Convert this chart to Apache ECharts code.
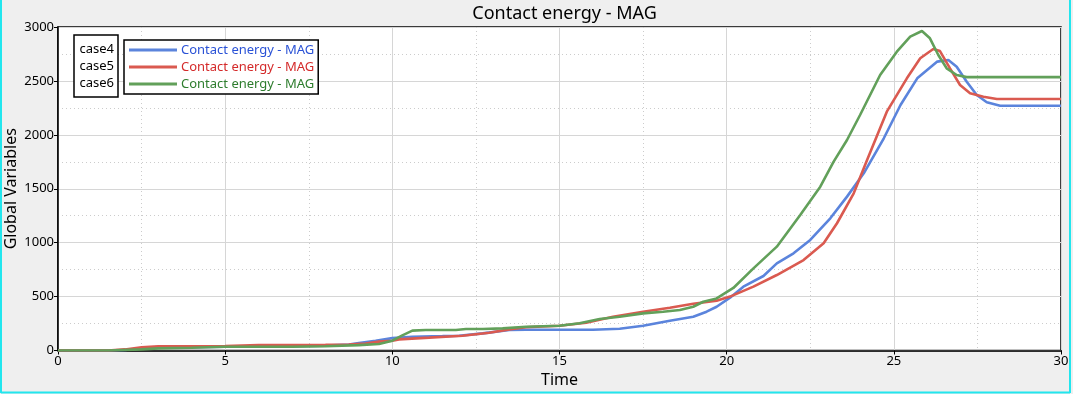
<!DOCTYPE html>
<html>
<head>
<meta charset="utf-8">
<script src="https://cdn.jsdelivr.net/npm/echarts@6/dist/echarts.min.js"></script>
<style>
html,body{margin:0;padding:0;background:#efefef;}
#chart{width:1073px;height:394px;}
</style>
</head>
<body>
<div id="chart"></div>
<script>
const chartTitle = 'Contact energy - MAG';
const caseNames = ['case4', 'case5', 'case6'];
const seriesLabel = 'Contact energy - MAG';
const xTicks = [0, 5, 10, 15, 20, 25, 30];
const yTicks = [0, 500, 1000, 1500, 2000, 2500, 3000];

const case4 = [
  [0,0],[1.5,0],[2,5],[2.5,20],[3,25],[4,30],[5,35],[6,38],[7,40],[8,45],[8.7,55],[9,70],[9.5,90],[10,115],
  [10.6,128],[11.5,133],[12,137],[12.7,159],[13.5,190],[14,192],[15,192],[16,192],[16.8,202],[17.5,230],
  [18.3,276],[19,313],[19.4,360],[19.7,406],[20.1,490],[20.5,592],[21.1,691],[21.5,808],[22,901],[22.5,1025],
  [23.1,1226],[23.6,1427],[24.1,1643],[24.7,1968],[25.2,2277],[25.7,2524],[26.3,2679],[26.63,2694],[26.88,2632],
  [27.18,2493],[27.48,2369],[27.78,2302],[28.18,2270],[30,2270]
];
const case5 = [
  [0,0],[1.5,0],[2,10],[2.5,30],[3,38],[4,40],[5,42],[6,50],[7,50],[8,52],[8.7,55],[9.2,65],[9.6,82],[10,90],
  [10.2,103],[11.1,119],[12.1,137],[12.9,165],[13.5,196],[14,215],[15,230],[15.8,258],[16.6,313],[17.5,360],
  [18.3,397],[19,434],[19.7,461],[20.1,500],[20.8,592],[21.5,700],[22.3,839],[22.9,994],[23.3,1180],[23.8,1458],
  [24.2,1767],[24.79,2215],[25.39,2524],[25.79,2710],[26.18,2796],[26.38,2777],[26.68,2617],[26.98,2462],
  [27.28,2385],[27.68,2354],[28.08,2332],[30,2332]
];
const case6 = [
  [0,0],[1.5,0],[2.5,10],[3,20],[4,25],[4.5,30],[5,35],[6,35],[7,35],[8,40],[9,50],[9.6,60],[10,91],[10.3,140],
  [10.6,184],[11,190],[11.9,190],[12.2,199],[12.7,200],[13.3,205],[14,220],[15,230],[15.6,252],[16.2,292],
  [16.8,313],[17.5,344],[18.1,360],[18.6,375],[19,406],[19.3,452],[19.7,483],[20.2,580],[20.8,762],[21.5,963],
  [22.2,1257],[22.8,1519],[23.2,1751],[23.6,1952],[23.99,2184],[24.59,2555],[25.09,2771],[25.49,2910],
  [25.84,2963],[26.08,2895],[26.33,2740],[26.58,2617],[26.88,2555],[27.18,2535],[30,2535]
];

const lineColors = ['#5b84dc', '#da5a50', '#62a05a'];
const textColors = ['#2a52d6', '#d42a2a', '#2e7d2e'];
const FONT = '"Noto Sans", "DejaVu Sans", sans-serif';

const chart = echarts.init(document.getElementById('chart'));
const dataSets = [case4, case5, case6];

chart.setOption({
  backgroundColor: '#efefef',
  animation: false,
  textStyle: { fontFamily: FONT },
  title: {
    text: chartTitle, left: 559.5, textAlign: 'center', top: 0,
    textStyle: { fontFamily: FONT, fontSize: 18, fontWeight: 'normal', color: '#000' }
  },
  grid: {
    left: 58, right: 12, top: 27, bottom: 43.5, show: true,
    containLabel: false, outerBoundsMode: 'none',
    backgroundColor: '#fff', borderColor: '#000', borderWidth: 1.5
  },
  legend: {
    orient: 'vertical', left: 124, top: 40,
    backgroundColor: '#fff', borderColor: '#000', borderWidth: 1.5,
    padding: [3, 4, 3, 5], itemGap: 3,
    itemWidth: 48, itemHeight: 3, icon: 'rect',
    formatter: () => seriesLabel,
    data: caseNames.map((n, i) => ({ name: n, textStyle: { color: textColors[i] } })),
    textStyle: { fontFamily: FONT, fontSize: 13, lineHeight: 14, padding: [0, 0, 0, -1] }
  },
  xAxis: {
    type: 'value', min: 0, max: 30, interval: 5,
    name: 'Time', nameLocation: 'middle', nameGap: 22, nameMoveOverlap: false,
    nameTextStyle: { fontFamily: FONT, fontSize: 16, color: '#000' },
    axisLine: { show: true, lineStyle: { color: '#000', width: 1.5 } },
    axisTick: { show: true, length: 4, lineStyle: { color: '#000' } },
    axisLabel: { color: '#000', fontSize: 13, fontFamily: FONT, margin: 4,
      formatter: v => xTicks.includes(v) ? String(v) : '' },
    splitLine: { show: true, lineStyle: { color: '#d6d6d6', width: 1 } },
    minorTick: { show: false, splitNumber: 2 },
    minorSplitLine: { show: true, lineStyle: { color: '#cccccc', type: [1, 3], width: 1 } }
  },
  yAxis: {
    type: 'value', min: 0, max: 3000, interval: 500,
    name: 'Global Variables', nameLocation: 'middle', nameGap: 39, nameRotate: 90, nameMoveOverlap: false,
    nameTextStyle: { fontFamily: FONT, fontSize: 16, color: '#000' },
    axisLine: { show: true, lineStyle: { color: '#000', width: 1.5 } },
    axisTick: { show: true, length: 4, lineStyle: { color: '#000' } },
    axisLabel: { color: '#000', fontSize: 13, fontFamily: FONT, margin: 4,
      formatter: v => yTicks.includes(v) ? String(v) : '' },
    splitLine: { show: true, lineStyle: { color: '#d6d6d6', width: 1 } },
    minorTick: { show: false, splitNumber: 2 },
    minorSplitLine: { show: true, lineStyle: { color: '#cccccc', type: [1, 3], width: 1 } }
  },
  series: dataSets.map((d, i) => ({
    name: caseNames[i], type: 'line', data: d, showSymbol: false, symbol: 'none',
    lineStyle: { color: lineColors[i], width: 2.6 }, itemStyle: { color: lineColors[i] },
    emphasis: { disabled: true }
  })),
  graphic: [
    { type: 'rect', shape: { x: 74, y: 35, width: 44, height: 62 },
      style: { fill: '#fff', stroke: '#000', lineWidth: 1.5 }, z: 100 },
    ...caseNames.map((n, i) => ({
      type: 'text', x: 114, y: 49 + i * 17, z: 101,
      style: { text: n, fill: '#000', font: '13px ' + FONT, align: 'right', verticalAlign: 'middle' }
    })),
    { type: 'line', shape: { x1: 1, y1: 0, x2: 1, y2: 393 }, style: { stroke: '#22e6ee', lineWidth: 2 }, z: 200 },
    { type: 'line', shape: { x1: 1070, y1: 0, x2: 1070, y2: 393 }, style: { stroke: '#22e6ee', lineWidth: 2 }, z: 200 },
    { type: 'line', shape: { x1: 1, y1: 392.5, x2: 1070, y2: 392.5 }, style: { stroke: '#22e6ee', lineWidth: 2 }, z: 200 }
  ]
});
</script>
</body>
</html>
